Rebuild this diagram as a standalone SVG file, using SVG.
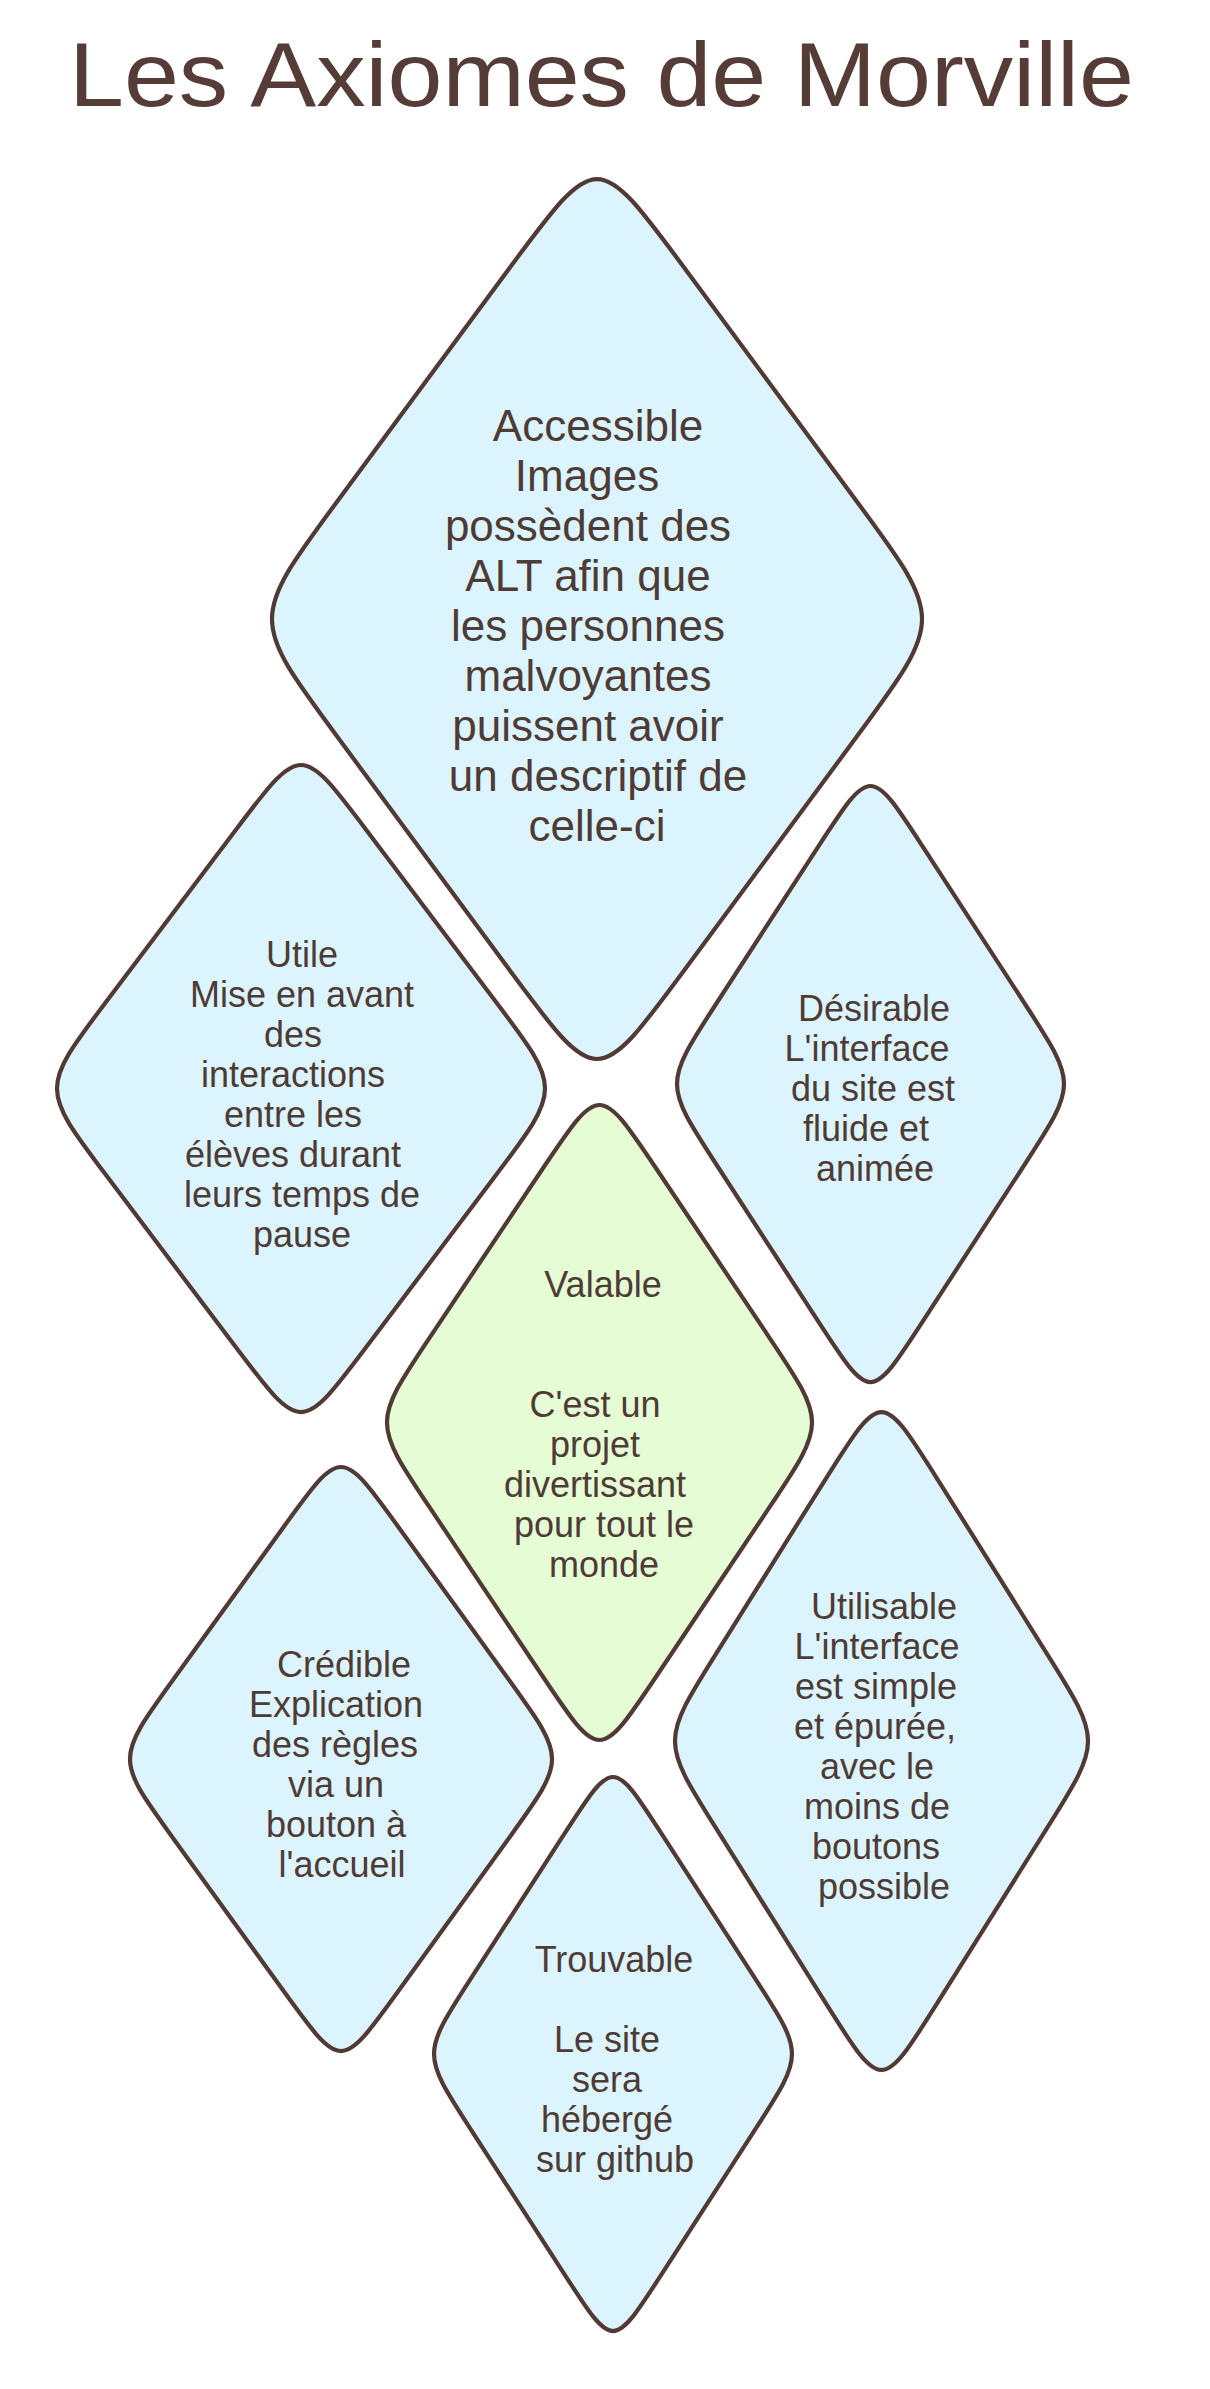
<svg xmlns="http://www.w3.org/2000/svg" width="1210" height="2389" viewBox="0 0 1210 2389">
<style>
.shape{stroke:#513a34;stroke-width:4.2;stroke-linejoin:round}
.blue{fill:#dcf4fd}
.green{fill:#e5fcd5}
.t{font-family:"Liberation Sans","DejaVu Sans",Arial,sans-serif;font-size:36px;fill:#4e3b35;text-anchor:middle}
.tl{font-size:44px}
.title{font-family:"Liberation Sans","DejaVu Sans",Arial,sans-serif;font-size:90px;fill:#553c36}
</style>
<rect width="1210" height="2389" fill="#ffffff"/>
<g id="title">
<text class="title" x="69" y="106" textLength="1065" lengthAdjust="spacingAndGlyphs">Les Axiomes de Morville</text>
</g>
<g id="connectors"></g>
<g id="accessible">
<path class="shape blue" d="M683.7,267 L857,501.7 C943.7,619 943.7,619 857,736.3 L683.7,971 C597,1088.3 597,1088.3 510.3,971 L337,736.3 C250.3,619 250.3,619 337,501.7 L510.3,267 C597,149.7 597,149.7 683.7,267 Z"/>
<text class="t tl" x="598" y="441">Accessible</text>
<text class="t tl" x="587" y="491">Images</text>
<text class="t tl" x="588" y="541">possèdent des</text>
<text class="t tl" x="588" y="591">ALT afin que</text>
<text class="t tl" x="588" y="641">les personnes</text>
<text class="t tl" x="588" y="691">malvoyantes</text>
<text class="t tl" x="588" y="741">puissent avoir</text>
<text class="t tl" x="598" y="791">un descriptif de</text>
<text class="t tl" x="597" y="841">celle-ci</text>
</g>
<g id="utile">
<path class="shape blue" d="M366.1,829.7 L496.2,1002.2 C561.3,1088.5 561.3,1088.5 496.2,1174.8 L366.1,1347.3 C301,1433.6 301,1433.6 235.9,1347.3 L105.8,1174.8 C40.7,1088.5 40.7,1088.5 105.8,1002.2 L235.9,829.7 C301,743.4 301,743.4 366.1,829.7 Z"/>
<text class="t" x="302" y="967">Utile</text>
<text class="t" x="302" y="1007">Mise en avant</text>
<text class="t" x="293" y="1047">des</text>
<text class="t" x="293" y="1087">interactions</text>
<text class="t" x="293" y="1127">entre les</text>
<text class="t" x="293" y="1167">élèves durant</text>
<text class="t" x="302" y="1207">leurs temps de</text>
<text class="t" x="302" y="1247">pause</text>
</g>
<g id="desirable">
<path class="shape blue" d="M922.1,845.6 L1025.3,1004.5 C1076.9,1084 1076.9,1084 1025.3,1163.5 L922.1,1322.4 C870.5,1401.9 870.5,1401.9 818.9,1322.4 L715.7,1163.5 C664.1,1084 664.1,1084 715.7,1004.5 L818.9,845.6 C870.5,766.1 870.5,766.1 922.1,845.6 Z"/>
<text class="t" x="874" y="1021">Désirable</text>
<text class="t" x="867" y="1061">L'interface</text>
<text class="t" x="873" y="1101">du site est</text>
<text class="t" x="866" y="1141">fluide et</text>
<text class="t" x="875" y="1181">animée</text>
</g>
<g id="valable">
<path class="shape green" d="M656.2,1168.5 L769.5,1337.8 C826.2,1422.5 826.2,1422.5 769.5,1507.2 L656.2,1676.5 C599.5,1761.2 599.5,1761.2 542.8,1676.5 L429.5,1507.2 C372.8,1422.5 372.8,1422.5 429.5,1337.8 L542.8,1168.5 C599.5,1083.8 599.5,1083.8 656.2,1168.5 Z"/>
<text class="t" x="603" y="1297">Valable</text>
<text class="t" x="595" y="1417">C'est un</text>
<text class="t" x="595" y="1457">projet</text>
<text class="t" x="595" y="1497">divertissant</text>
<text class="t" x="604" y="1537">pour tout le</text>
<text class="t" x="604" y="1577">monde</text>
</g>
<g id="credible">
<path class="shape blue" d="M397.3,1525.4 L509.8,1681.1 C566.1,1759 566.1,1759 509.8,1836.9 L397.3,1992.6 C341,2070.5 341,2070.5 284.7,1992.6 L172.2,1836.9 C115.9,1759 115.9,1759 172.2,1681.1 L284.7,1525.4 C341,1447.5 341,1447.5 397.3,1525.4 Z"/>
<text class="t" x="344" y="1677">Crédible</text>
<text class="t" x="336" y="1717">Explication</text>
<text class="t" x="335" y="1757">des règles</text>
<text class="t" x="336" y="1797">via un</text>
<text class="t" x="336" y="1837">bouton à</text>
<text class="t" x="342" y="1877">l'accueil</text>
</g>
<g id="utilisable">
<path class="shape blue" d="M936.6,1477.8 L1046.7,1653.3 C1101.8,1741 1101.8,1741 1046.7,1828.7 L936.6,2004.2 C881.5,2091.9 881.5,2091.9 826.4,2004.2 L716.3,1828.7 C661.2,1741 661.2,1741 716.3,1653.3 L826.4,1477.8 C881.5,1390.1 881.5,1390.1 936.6,1477.8 Z"/>
<text class="t" x="884" y="1619">Utilisable</text>
<text class="t" x="877" y="1659">L'interface</text>
<text class="t" x="876" y="1699">est simple</text>
<text class="t" x="875" y="1739">et épurée,</text>
<text class="t" x="877" y="1779">avec le</text>
<text class="t" x="877" y="1819">moins de</text>
<text class="t" x="876" y="1859">boutons</text>
<text class="t" x="884" y="1899">possible</text>
</g>
<g id="trouvable">
<path class="shape blue" d="M660.7,1832.4 L756.2,1980.1 C803.9,2054 803.9,2054 756.2,2127.9 L660.7,2275.6 C613,2349.5 613,2349.5 565.3,2275.6 L469.8,2127.9 C422.1,2054 422.1,2054 469.8,1980.1 L565.3,1832.4 C613,1758.5 613,1758.5 660.7,1832.4 Z"/>
<text class="t" x="614" y="1972">Trouvable</text>
<text class="t" x="607" y="2052">Le site</text>
<text class="t" x="607" y="2092">sera</text>
<text class="t" x="607" y="2132">hébergé</text>
<text class="t" x="615" y="2172">sur github</text>
</g>
</svg>
